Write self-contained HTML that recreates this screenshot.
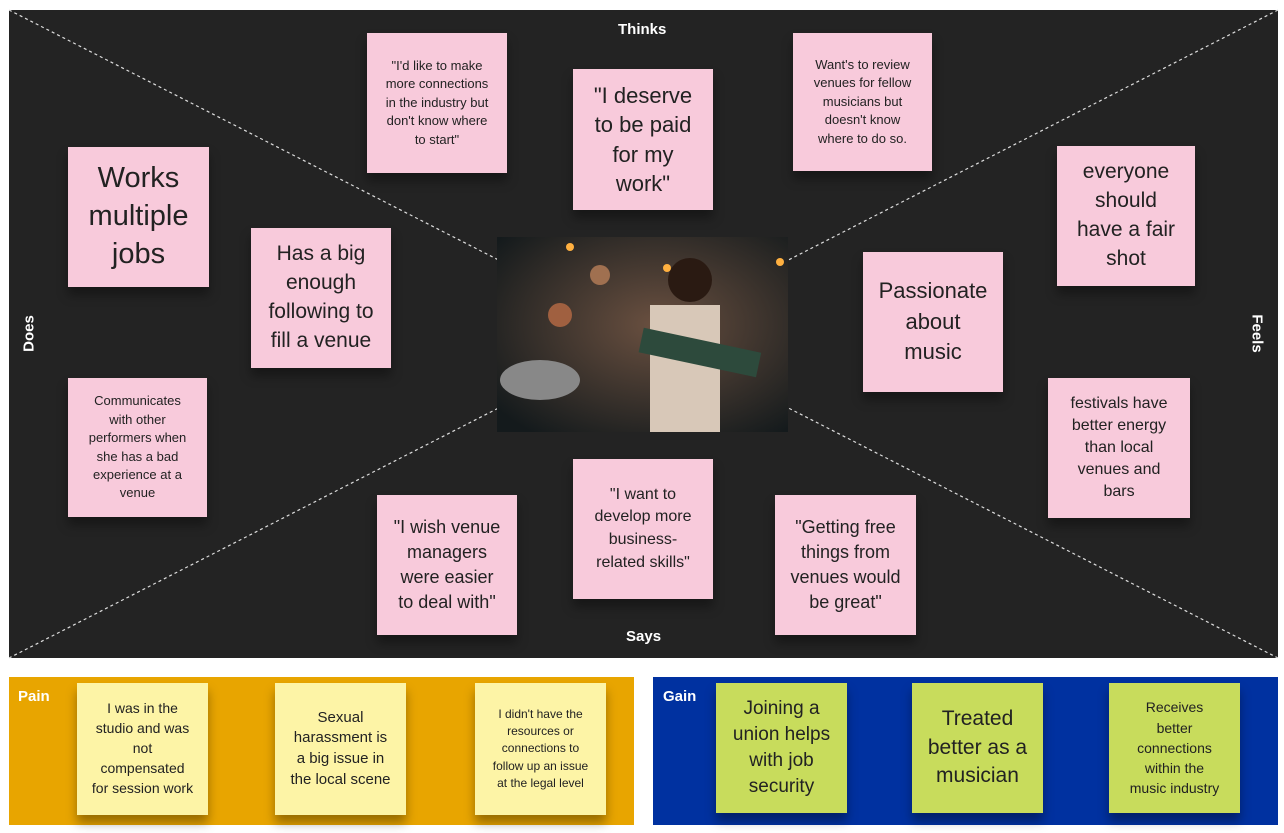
<!DOCTYPE html>
<html><head><style>
*{margin:0;padding:0;box-sizing:border-box}
body{width:1284px;height:833px;background:#fff;position:relative;overflow:hidden;font-family:"Liberation Sans",sans-serif}
.board{position:absolute;left:9px;top:10px;width:1269px;height:648px;background:#232323}
.n{position:absolute;display:flex;align-items:center;justify-content:center;text-align:center;color:#222;line-height:1.35;box-shadow:0 8px 10px rgba(0,0,0,.35);white-space:nowrap}
.p{background:#f8cadb}
.y{background:#fdf4a6}
.g{background:#c8dc5c}
.lbl{position:absolute;color:#fff;font-weight:bold;font-size:15px}
</style></head><body>
<div class="board"></div>
<svg style="position:absolute;left:0;top:0" width="1284" height="833">
<line x1="9" y1="10" x2="1278" y2="658" stroke="#ddd" stroke-width="1.2" stroke-dasharray="3,3"/>
<line x1="1278" y1="10" x2="9" y2="658" stroke="#ddd" stroke-width="1.2" stroke-dasharray="3,3"/>
<defs><radialGradient id="r" cx="0.55" cy="0.45" r="0.7"><stop offset="0" stop-color="#6a5040"/><stop offset="1" stop-color="#141a1c"/></radialGradient></defs>
<rect x="497" y="237" width="291" height="195" fill="url(#r)"/>
<circle cx="690" cy="280" r="22" fill="#2a1a12"/>
<rect x="650" y="305" width="70" height="127" fill="#d8c8b8"/>
<rect x="640" y="340" width="120" height="25" fill="#2d4a3c" transform="rotate(12 700 352)"/>
<ellipse cx="540" cy="380" rx="40" ry="20" fill="#888"/>
<circle cx="560" cy="315" r="12" fill="#a06040"/>
<circle cx="600" cy="275" r="10" fill="#a07050"/>
<circle cx="570" cy="247" r="4" fill="#ffb040"/><circle cx="667" cy="268" r="4" fill="#ffb040"/><circle cx="780" cy="262" r="4" fill="#ffb040"/>
</svg>
<div class="lbl" style="left:618px;top:21px">Thinks</div>
<div class="lbl" style="left:626px;top:628px">Says</div>
<div class="lbl" style="left:4px;top:325px;transform:rotate(-90deg);width:50px;text-align:center">Does</div>
<div class="lbl" style="left:1232px;top:325px;transform:rotate(90deg);width:50px;text-align:center">Feels</div>

<div class="n p" style="left:367px;top:33px;width:140px;height:140px;font-size:13px;line-height:1.42">"I'd like to make<br>more connections<br>in the industry but<br>don't know where<br>to start"</div>
<div class="n p" style="left:573px;top:69px;width:140px;height:141px;font-size:22px;line-height:1.32">"I deserve<br>to be paid<br>for my<br>work"</div>
<div class="n p" style="left:793px;top:33px;width:139px;height:138px;font-size:13px;line-height:1.42">Want's to review<br>venues for fellow<br>musicians but<br>doesn't know<br>where to do so.</div>
<div class="n p" style="left:68px;top:147px;width:141px;height:140px;font-size:29px;line-height:1.3">Works<br>multiple<br>jobs</div>
<div class="n p" style="left:251px;top:228px;width:140px;height:140px;font-size:21px;line-height:1.38">Has a big<br>enough<br>following to<br>fill a venue</div>
<div class="n p" style="left:68px;top:378px;width:139px;height:139px;font-size:13px;line-height:1.42">Communicates<br>with other<br>performers when<br>she has a bad<br>experience at a<br>venue</div>
<div class="n p" style="left:1057px;top:146px;width:138px;height:140px;font-size:21px;line-height:1.38">everyone<br>should<br>have a fair<br>shot</div>
<div class="n p" style="left:863px;top:252px;width:140px;height:140px;font-size:22px;line-height:1.38">Passionate<br>about<br>music</div>
<div class="n p" style="left:1048px;top:378px;width:142px;height:140px;font-size:16px;line-height:1.38">festivals have<br>better energy<br>than local<br>venues and<br>bars</div>
<div class="n p" style="left:377px;top:495px;width:140px;height:140px;font-size:18px;line-height:1.38">"I wish venue<br>managers<br>were easier<br>to deal with"</div>
<div class="n p" style="left:573px;top:459px;width:140px;height:140px;font-size:16px;line-height:1.42">"I want to<br>develop more<br>business-<br>related skills"</div>
<div class="n p" style="left:775px;top:495px;width:141px;height:140px;font-size:18px;line-height:1.38">"Getting free<br>things from<br>venues would<br>be great"</div>

<div style="position:absolute;left:9px;top:677px;width:625px;height:148px;background:#e8a500"></div>
<div class="lbl" style="left:18px;top:688px">Pain</div>
<div class="n y" style="left:77px;top:683px;width:131px;height:132px;font-size:14px;line-height:1.42">I was in the<br>studio and was<br>not<br>compensated<br>for session work</div>
<div class="n y" style="left:275px;top:683px;width:131px;height:132px;font-size:15px;line-height:1.38">Sexual<br>harassment is<br>a big issue in<br>the local scene</div>
<div class="n y" style="left:475px;top:683px;width:131px;height:132px;font-size:12px;line-height:1.45">I didn't have the<br>resources or<br>connections to<br>follow up an issue<br>at the legal level</div>

<div style="position:absolute;left:653px;top:677px;width:625px;height:148px;background:#0031a0"></div>
<div class="lbl" style="left:663px;top:688px">Gain</div>
<div class="n g" style="left:716px;top:683px;width:131px;height:130px;font-size:19px;line-height:1.38">Joining a<br>union helps<br>with job<br>security</div>
<div class="n g" style="left:912px;top:683px;width:131px;height:130px;font-size:21px;line-height:1.38">Treated<br>better as a<br>musician</div>
<div class="n g" style="left:1109px;top:683px;width:131px;height:130px;font-size:14px;line-height:1.45">Receives<br>better<br>connections<br>within the<br>music industry</div>
</body></html>
